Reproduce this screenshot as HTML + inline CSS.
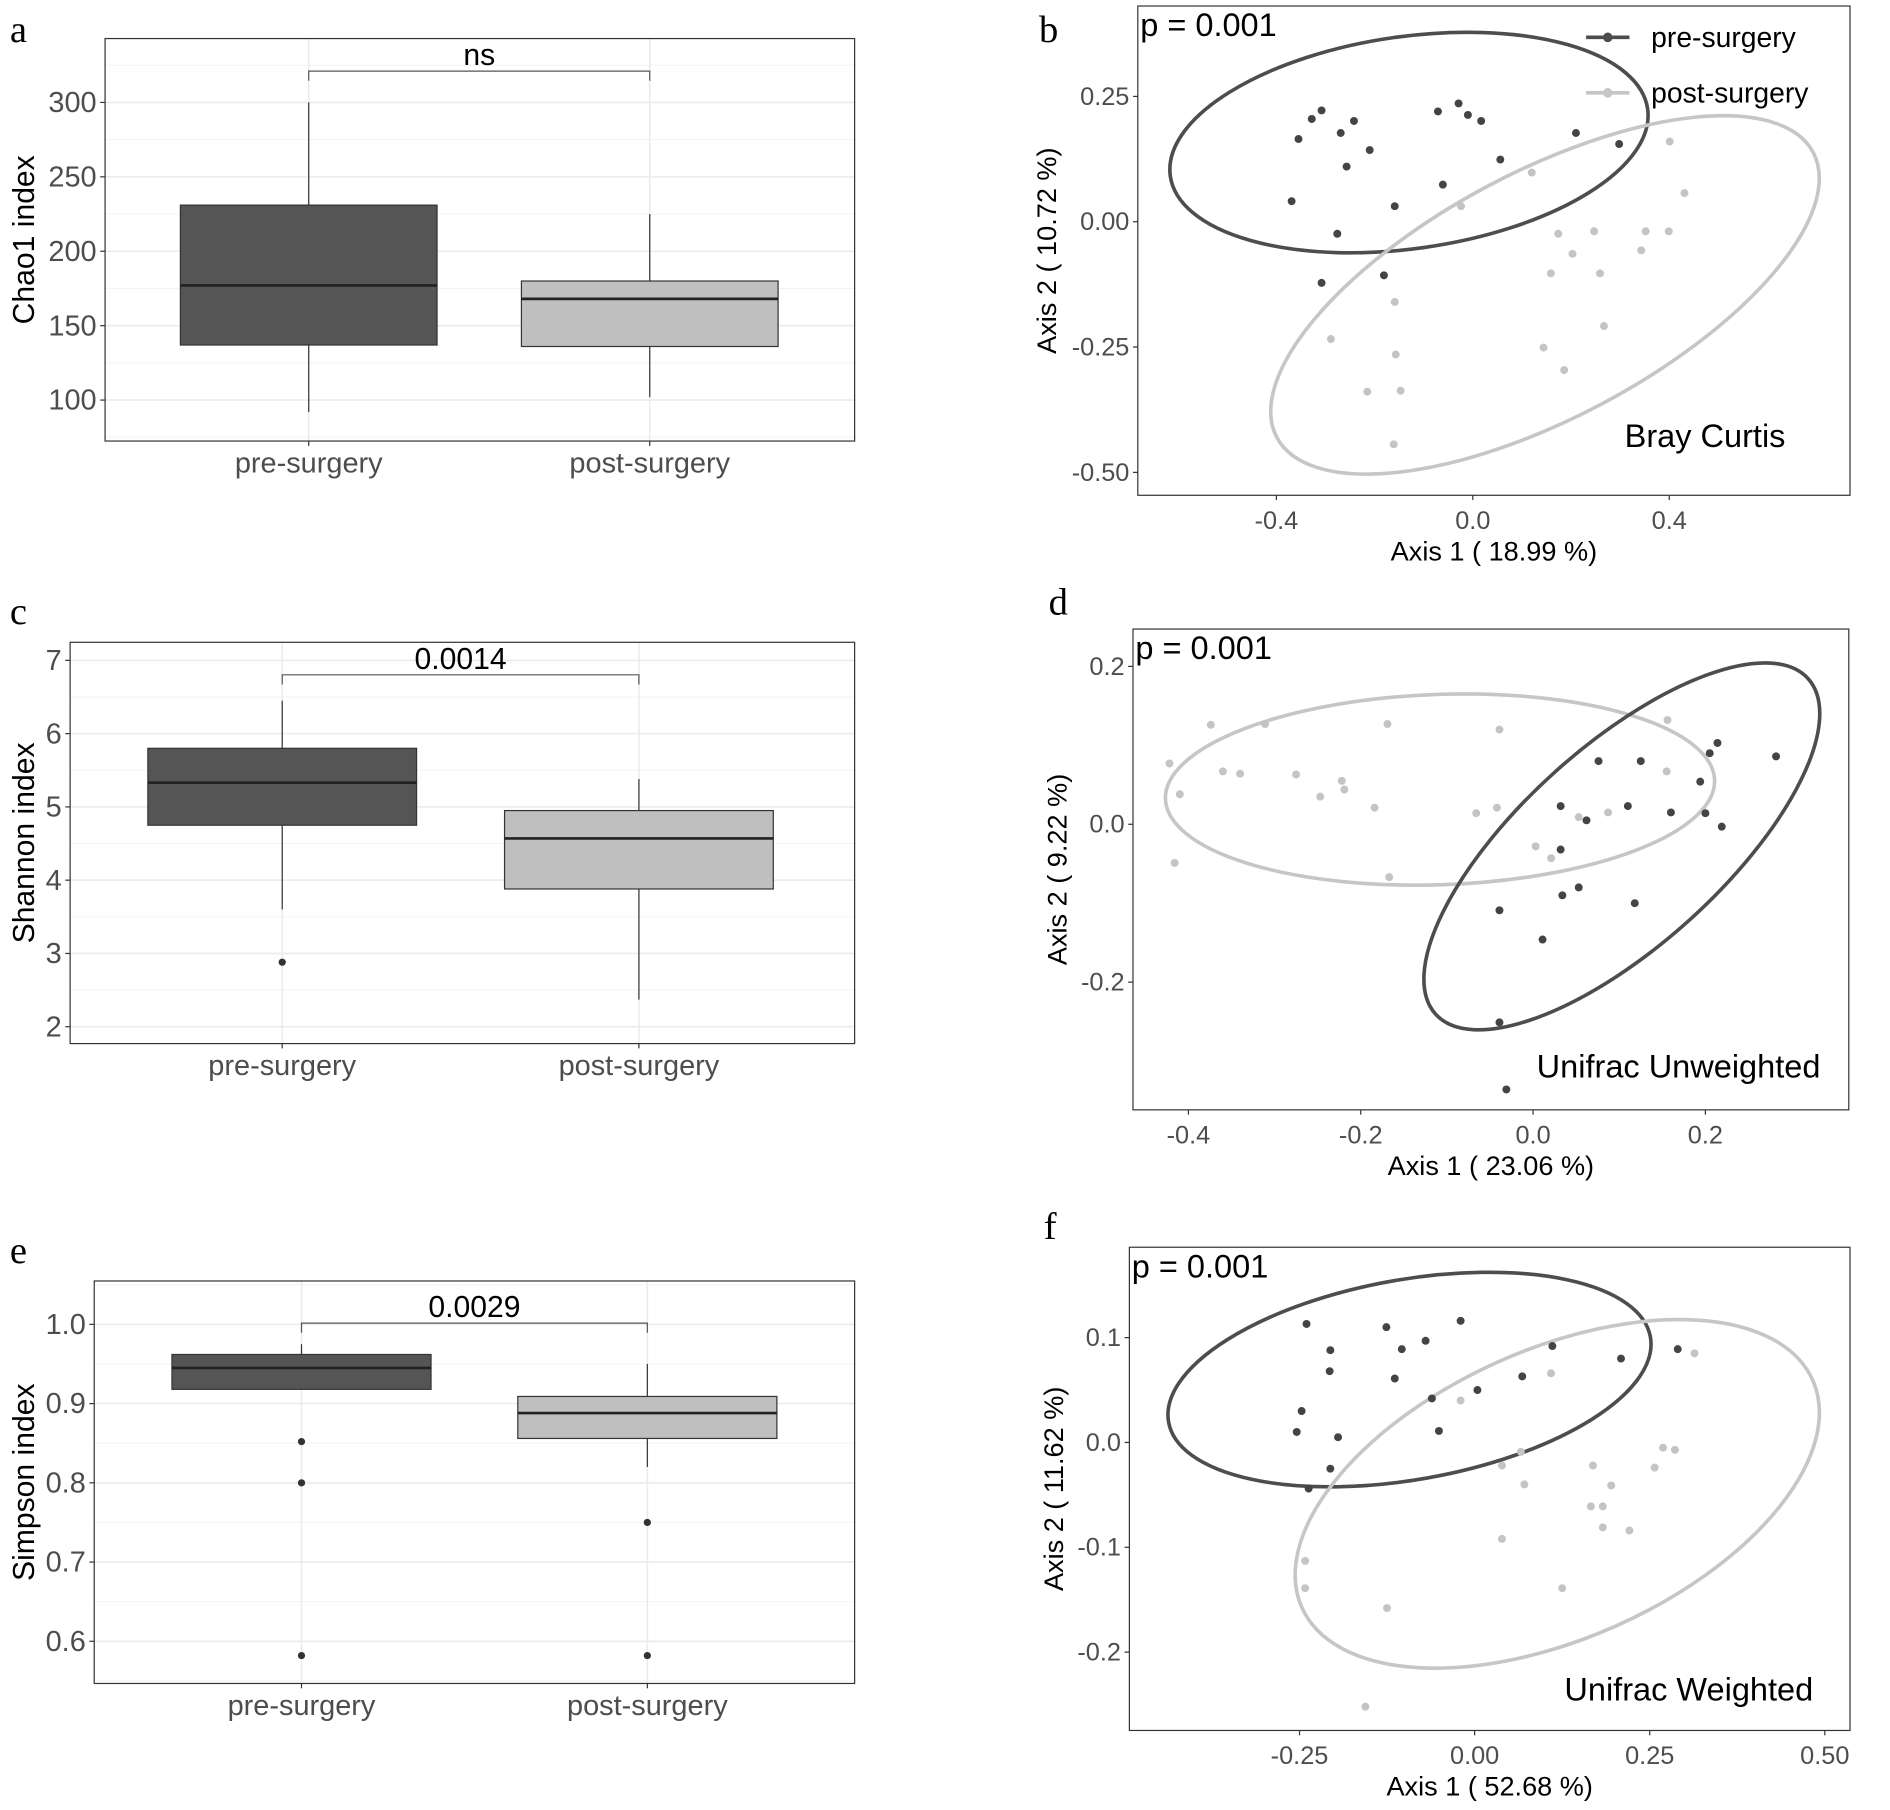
<!DOCTYPE html>
<html><head><meta charset="utf-8">
<style>
html,body{margin:0;padding:0;background:#fff;}
svg{display:block;font-family:"Liberation Sans",Arial,sans-serif;}
</style></head>
<body>
<svg id="fig" width="1890" height="1810" viewBox="0 0 1568 1502" xmlns="http://www.w3.org/2000/svg"></svg>
<script>
// ---------- DATA ----------
const boxCategories = ["pre-surgery", "post-surgery"];
const chaoPre = [92, 137, 177, 231, 300];
const chaoPost = [102, 136, 168, 180, 225];
const chaoOutPre = [];
const chaoOutPost = [];
const chaoTicks = [100, 150, 200, 250, 300];
const shanPre = [3.6, 4.75, 5.33, 5.8, 6.45];
const shanPost = [2.37, 3.88, 4.57, 4.95, 5.38];
const shanOutPre = [2.88];
const shanOutPost = [];
const shanTicks = [2, 3, 4, 5, 6, 7];
const simpPre = [0.918, 0.918, 0.945, 0.962, 0.975];
const simpPost = [0.82, 0.856, 0.888, 0.909, 0.95];
const simpOutPre = [0.852, 0.8, 0.582];
const simpOutPost = [0.75, 0.582];
const simpTicks = [0.6, 0.7, 0.8, 0.9, 1.0];

const bcPreX = [-0.355,-0.328,-0.308,-0.269,-0.242,-0.210,-0.257,-0.369,-0.276,-0.308,-0.159,-0.181,-0.071,-0.029,-0.010,0.017,-0.061,0.056,0.210,0.298];
const bcPreY = [0.165,0.205,0.222,0.177,0.201,0.143,0.110,0.041,-0.024,-0.122,0.031,-0.107,0.220,0.236,0.213,0.201,0.074,0.124,0.177,0.155];
const bcPostX = [0.120,-0.024,0.174,0.247,0.203,0.159,0.259,0.267,0.144,0.186,0.352,0.343,0.399,0.401,0.431,-0.289,-0.215,-0.159,-0.157,-0.147,-0.161];
const bcPostY = [0.098,0.031,-0.024,-0.019,-0.064,-0.103,-0.103,-0.208,-0.251,-0.296,-0.019,-0.057,-0.019,0.160,0.057,-0.234,-0.339,-0.160,-0.265,-0.337,-0.444];
const bcXTicks = [-0.4, 0.0, 0.4];
const bcYTicks = [0.25, 0.00, -0.25, -0.50];
const uuPreX = [0.032,0.076,0.062,0.110,0.125,0.160,0.194,0.205,0.214,0.200,0.219,0.282,0.032,0.053,0.034,0.011,-0.039,0.118,-0.039,-0.031];
const uuPreY = [0.023,0.080,0.005,0.023,0.080,0.015,0.054,0.090,0.103,0.014,-0.003,0.086,-0.032,-0.080,-0.090,-0.146,-0.109,-0.100,-0.251,-0.336];
const uuPostX = [-0.422,-0.410,-0.360,-0.374,-0.340,-0.311,-0.275,-0.247,-0.222,-0.219,-0.184,-0.169,-0.066,-0.039,-0.042,-0.416,-0.167,0.003,0.021,0.053,0.087,0.155,0.156];
const uuPostY = [0.077,0.038,0.067,0.126,0.064,0.127,0.063,0.035,0.055,0.044,0.021,0.127,0.014,0.120,0.021,-0.049,-0.067,-0.028,-0.043,0.009,0.015,0.067,0.132];
const uuXTicks = [-0.4, -0.2, 0.0, 0.2];
const uuYTicks = [0.2, 0.0, -0.2];
const uwPreX = [-0.240,-0.206,-0.207,-0.247,-0.254,-0.195,-0.206,-0.237,-0.126,-0.114,-0.104,-0.070,-0.061,-0.051,-0.020,0.004,0.068,0.111,0.209,0.290];
const uwPreY = [0.113,0.088,0.068,0.030,0.010,0.005,-0.025,-0.044,0.110,0.061,0.089,0.097,0.042,0.011,0.116,0.050,0.063,0.092,0.080,0.089];
const uwPostX = [-0.020,0.039,0.066,0.071,0.039,0.109,0.169,0.166,0.183,0.195,0.183,0.221,0.257,0.269,0.286,0.314,0.125,-0.125,-0.242,-0.242,-0.156];
const uwPostY = [0.040,-0.022,-0.009,-0.040,-0.092,0.066,-0.022,-0.061,-0.061,-0.041,-0.081,-0.084,-0.024,-0.005,-0.007,0.085,-0.139,-0.158,-0.113,-0.139,-0.252];
const uwXTicks = [-0.25, 0.00, 0.25, 0.50];
const uwYTicks = [0.1, 0.0, -0.1, -0.2];

// ---------- RENDER ----------
const NS = "http://www.w3.org/2000/svg";
const svg = document.getElementById("fig");
function el(tag, attrs, parent, text) {
  const e = document.createElementNS(NS, tag);
  for (const k in attrs) e.setAttribute(k, attrs[k]);
  if (text !== undefined) e.textContent = text;
  (parent || svg).appendChild(e);
  return e;
}
const DARK = "#555555", LIGHT = "#bfbfbf", TICK = "#4d4d4d", GRID = "#ebebeb";

function letter(ch, x, y) {
  const t = el("text", {x: x, y: y, "font-family": "Liberation Serif, serif", "font-size": 32, fill: "#000"}, svg, ch);
  
  
}

function boxPanel(cfg) {
  const g = el("g", {});
  
  
  const {x0, x1, y0, y1} = cfg;
  const sy = v => cfg.py0 + (v - cfg.v0) * (cfg.py1 - cfg.py0) / (cfg.v1 - cfg.v0);
  const cx = i => cfg.cats[i];
  const t = cfg.ticks;
  const step = t[1] - t[0];
  for (let i = 0; i < t.length + 1; i++) {
    const m = t[0] + (i - 0.5) * step;
    const py = sy(m);
    if (py > y0 && py < y1) el("line", {x1: x0, x2: x1, y1: py, y2: py, stroke: "#f3f3f3", "stroke-width": 0.8}, g);
  }
  t.forEach(v => el("line", {x1: x0, x2: x1, y1: sy(v), y2: sy(v), stroke: GRID, "stroke-width": 1.3}, g));
  [0, 1].forEach(i => el("line", {x1: cx(i), x2: cx(i), y1: y0, y2: y1, stroke: GRID, "stroke-width": 1.3}, g));
  const sets = [[cfg.pre, cfg.outPre, DARK], [cfg.post, cfg.outPost, LIGHT]];
  sets.forEach((s, i) => {
    const [lw, q1, md, q3, hw] = s[0];
    const c = cx(i), hw2 = cfg.boxW / 2;
    const bg = el("g", {}, g);
    
    
    el("line", {x1: c, x2: c, y1: sy(hw), y2: sy(q3), stroke: "#333", "stroke-width": 1}, bg);
    el("line", {x1: c, x2: c, y1: sy(q1), y2: sy(lw), stroke: "#333", "stroke-width": 1}, bg);
    el("rect", {x: c - hw2, y: sy(q3), width: cfg.boxW, height: sy(q1) - sy(q3), fill: s[2], stroke: "#333", "stroke-width": 1}, bg);
    el("line", {x1: c - hw2, x2: c + hw2, y1: sy(md), y2: sy(md), stroke: "#222", "stroke-width": 2.2}, bg);
    s[1].forEach(v => {
      const o = el("circle", {cx: c, cy: sy(v), r: 3, fill: "#333"}, bg);
      
      
    });
  });
  el("rect", {x: x0, y: y0, width: x1 - x0, height: y1 - y0, fill: "none", stroke: "#333", "stroke-width": 1}, g);
  t.forEach(v => {
    el("line", {x1: x0 - 4, x2: x0, y1: sy(v), y2: sy(v), stroke: "#333"}, g);
    const lab = el("text", {x: x0 - 7, y: sy(v) + 8, "text-anchor": "end", "font-size": 24, fill: TICK}, g, cfg.fmt(v));
    
    
  });
  [0, 1].forEach(i => {
    el("line", {x1: cx(i), x2: cx(i), y1: y1, y2: y1 + 4, stroke: "#333"}, g);
    const lab = el("text", {x: cx(i), y: y1 + 26, "text-anchor": "middle", "font-size": 24, fill: TICK}, g, boxCategories[i]);
    
    
  });
  const yl = el("text", {x: 0, y: 0, transform: `translate(${cfg.ylx},${(y0 + y1) / 2}) rotate(-90)`, "text-anchor": "middle", "font-size": 25, fill: "#000"}, g, cfg.ylabel);
  
  
  const by = cfg.bracketY;
  el("path", {d: `M${cx(0)},${by + 8} V${by} H${cx(1)} V${by + 8}`, fill: "none", stroke: "#555", "stroke-width": 1}, g);
  const sl = el("text", {x: (cx(0) + cx(1)) / 2, y: by - 5, "text-anchor": "middle", "font-size": 25, fill: "#000"}, g, cfg.sig);
  
  
}

function pcoaPanel(cfg) {
  const g = el("g", {});
  
  
  const {x0, x1, y0, y1} = cfg;
  const sx = v => cfg.px0 + (v - cfg.vx0) * (cfg.px1 - cfg.px0) / (cfg.vx1 - cfg.vx0);
  const sy = v => cfg.py0 + (v - cfg.vy0) * (cfg.py1 - cfg.py0) / (cfg.vy1 - cfg.vy0);
  el("rect", {x: x0, y: y0, width: x1 - x0, height: y1 - y0, fill: "#fff", stroke: "#333", "stroke-width": 1}, g);
  cfg.ellipses.forEach(e => {
    const cxp = sx(e.cx), cyp = sy(e.cy);
    const en = el("ellipse", {cx: cxp, cy: cyp, rx: e.rx, ry: e.ry, transform: `rotate(${e.a} ${cxp} ${cyp})`, fill: "none", stroke: e.c, "stroke-width": 3}, g);
    
    
  });
  const pts = [[cfg.preX, cfg.preY, "#444"], [cfg.postX, cfg.postY, "#c4c4c4"]];
  pts.forEach((p, k) => {
    p[0].forEach((xv, i) => {
      const c = el("circle", {cx: sx(xv), cy: sy(p[1][i]), r: 3.3, fill: p[2]}, g);
      
      
    });
  });
  cfg.xticks.forEach(v => {
    el("line", {x1: sx(v), x2: sx(v), y1: y1, y2: y1 + 4, stroke: "#333"}, g);
    const l = el("text", {x: sx(v), y: y1 + 28, "text-anchor": "middle", "font-size": 21, fill: TICK}, g, cfg.fx(v));
    
    
  });
  cfg.yticks.forEach(v => {
    el("line", {x1: x0 - 4, x2: x0, y1: sy(v), y2: sy(v), stroke: "#333"}, g);
    const l = el("text", {x: x0 - 7, y: sy(v) + 7, "text-anchor": "end", "font-size": 21, fill: TICK}, g, cfg.fy(v));
    
    
  });
  const xt = el("text", {x: (x0 + x1) / 2, y: y1 + 54, "text-anchor": "middle", "font-size": 22.5, fill: "#000"}, g, cfg.xlabel);
  
  
  const yt = el("text", {x: 0, y: 0, transform: `translate(${cfg.ylx},${(y0 + y1) / 2}) rotate(-90)`, "text-anchor": "middle", "font-size": 22.5, fill: "#000"}, g, cfg.ylabel);
  
  
  const p = el("text", {x: x0 + 2, y: y0 + 25, "font-size": 27, fill: "#000"}, g, "p = 0.001");
  
  
  const m = el("text", {x: cfg.mx, y: cfg.my, "font-size": 27, fill: "#000"}, g, cfg.method);
  
  
}

letter("a", 8, 35);
boxPanel({name: "chao1-boxplot", x0: 87, x1: 709, y0: 32, y1: 366, cats: [256, 539], boxW: 213,
  py0: 332, py1: 85, v0: 100, v1: 300, ticks: chaoTicks, fmt: v => String(v),
  pre: chaoPre, post: chaoPost, outPre: chaoOutPre, outPost: chaoOutPost,
  ylabel: "Chao1 index", ylx: 28, bracketY: 59, sig: "ns"});
letter("c", 8, 518);
boxPanel({name: "shannon-boxplot", x0: 58, x1: 709, y0: 533, y1: 866, cats: [234, 530], boxW: 223,
  py0: 852, py1: 548, v0: 2, v1: 7, ticks: shanTicks, fmt: v => String(v),
  pre: shanPre, post: shanPost, outPre: shanOutPre, outPost: shanOutPost,
  ylabel: "Shannon index", ylx: 28, bracketY: 560, sig: "0.0014"});
letter("e", 8, 1048);
boxPanel({name: "simpson-boxplot", x0: 78, x1: 709, y0: 1063, y1: 1397, cats: [250, 537], boxW: 215,
  py0: 1362, py1: 1099, v0: 0.6, v1: 1.0, ticks: simpTicks, fmt: v => v.toFixed(1),
  pre: simpPre, post: simpPost, outPre: simpOutPre, outPost: simpOutPost,
  ylabel: "Simpson index", ylx: 28, bracketY: 1098, sig: "0.0029"});

letter("b", 862, 35);
pcoaPanel({name: "bray-curtis-pcoa", x0: 944, x1: 1535, y0: 5, y1: 411,
  px0: 1222, px1: 1385, vx0: 0, vx1: 0.4, py0: 184, py1: 80, vy0: 0, vy1: 0.25,
  preX: bcPreX, preY: bcPreY, postX: bcPostX, postY: bcPostY,
  xticks: bcXTicks, yticks: bcYTicks, fx: v => v.toFixed(1), fy: v => v.toFixed(2),
  ellipses: [{cx: -0.130, cy: 0.158, rx: 200, ry: 88, a: -8, c: "#4d4d4d"}, {cx: 0.147, cy: -0.146, rx: 252, ry: 102, a: -28, c: "#c6c6c6"}],
  xlabel: "Axis 1 ( 18.99 %)", ylabel: "Axis 2 ( 10.72 %)", ylx: 876, method: "Bray Curtis", mx: 1348, my: 371});
const lg = el("g", {});


[["pre-surgery", "#4d4d4d", 31], ["post-surgery", "#c6c6c6", 77]].forEach(([lab, c, y]) => {
  el("line", {x1: 1316, x2: 1352, y1: y, y2: y, stroke: c, "stroke-width": 3}, lg);
  el("circle", {cx: 1334, cy: y, r: 4, fill: c}, lg);
  const t = el("text", {x: 1370, y: y + 8, "font-size": 23.5, fill: "#000"}, lg, lab);
  
  
});

letter("d", 870, 510);
pcoaPanel({name: "unifrac-unweighted-pcoa", x0: 940, x1: 1534, y0: 522, y1: 921,
  px0: 1272, px1: 1415, vx0: 0, vx1: 0.2, py0: 684, py1: 553, vy0: 0, vy1: 0.2,
  preX: uuPreX, preY: uuPreY, postX: uuPostX, postY: uuPostY,
  xticks: uuXTicks, yticks: uuYTicks, fx: v => v.toFixed(1), fy: v => v.toFixed(1),
  ellipses: [{cx: -0.108, cy: 0.044, rx: 228, ry: 79, a: -2, c: "#c6c6c6"}, {cx: 0.103, cy: -0.028, rx: 208, ry: 83, a: -42, c: "#4d4d4d"}],
  xlabel: "Axis 1 ( 23.06 %)", ylabel: "Axis 2 ( 9.22 %)", ylx: 885, method: "Unifrac Unweighted", mx: 1275, my: 894});

letter("f", 866, 1028);
pcoaPanel({name: "unifrac-weighted-pcoa", x0: 937, x1: 1535, y0: 1035, y1: 1436,
  px0: 1223.5, px1: 1368.8, vx0: 0, vx1: 0.25, py0: 1197, py1: 1110, vy0: 0, vy1: 0.1,
  preX: uwPreX, preY: uwPreY, postX: uwPostX, postY: uwPostY,
  xticks: uwXTicks, yticks: uwYTicks, fx: v => v.toFixed(2), fy: v => v.toFixed(1),
  ellipses: [{cx: -0.093, cy: 0.060, rx: 203, ry: 83, a: -10, c: "#4d4d4d"}, {cx: 0.118, cy: -0.049, rx: 232, ry: 120, a: -24, c: "#c6c6c6"}],
  xlabel: "Axis 1 ( 52.68 %)", ylabel: "Axis 2 ( 11.62 %)", ylx: 882, method: "Unifrac Weighted", mx: 1298, my: 1411});
</script>
</body></html>
